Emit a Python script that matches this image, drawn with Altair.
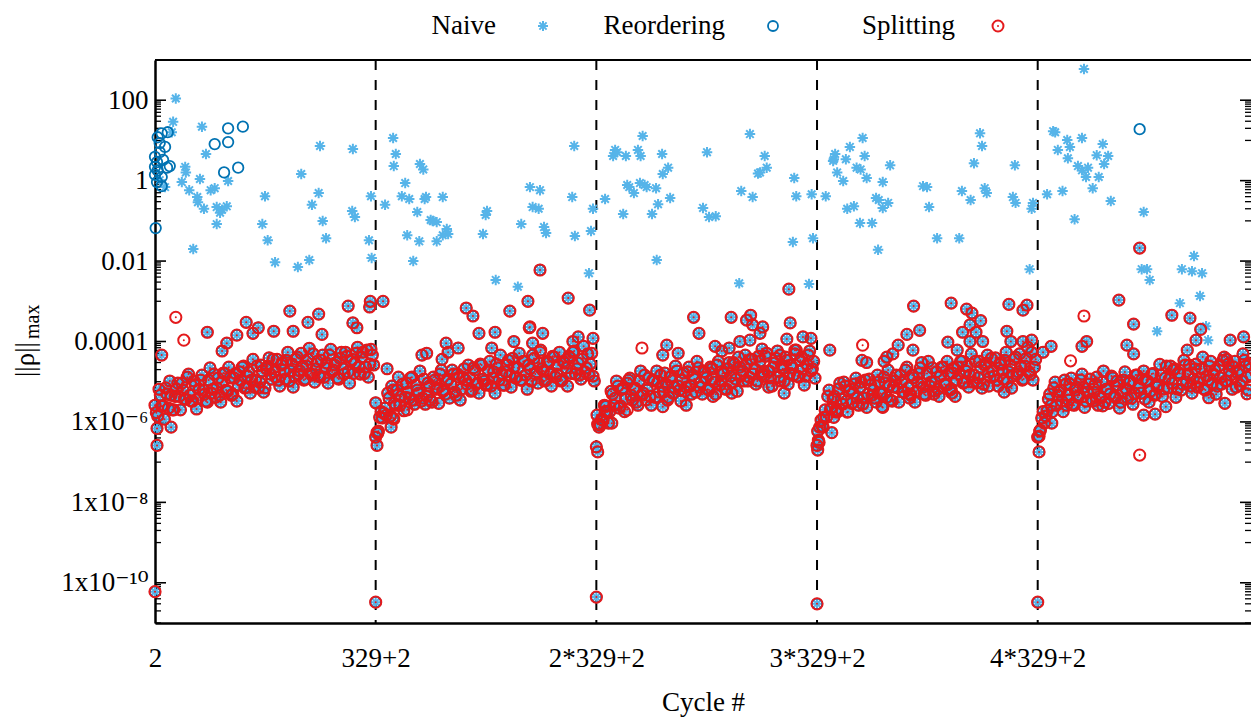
import altair as alt
import pandas as pd

FONT = "Liberation Serif, DejaVu Serif, serif"
NAIVE_C = "#56b4e9"
REORD_C = "#0072b2"
SPLIT_C = "#e41a1c"

# ---- axis ticks / labels ----
X_TICKS = [2, 331, 660, 989, 1318]
X_LABELS = ["2", "329+2", "2*329+2", "3*329+2", "4*329+2"]
Y_MAJOR = [1e-10, 1e-8, 1e-6, 1e-4, 1e-2, 1, 100]
Y_LABELS = ["1x10⁻¹⁰", "1x10⁻⁸", "1x10⁻⁶", "0.0001", "0.01", "1", "100"]
Y_MINOR = [k * m / 10 for m in Y_MAJOR for k in range(1, 10)]

# ---- data: the common band (all three methods agree) ----
SEG_STARTS = [2, 331, 660, 989, 1318]
BAND_STEP = 4          # list "a" at start+4i, list "b" at start+2+4i
seg1_band = [2.6e-6, 1.4e-6, 4.6e-6, 2.5e-6, 7e-6, 2.2e-6, 4.6e-6, 2e-6, 6.6e-6, 4.3e-6,
             9.2e-6, 3.7e-6, 1.3e-5, 4.6e-6, 3.3e-6, 8.2e-6, 3.9e-6, 1.1e-5, 6.2e-6, 3.3e-6,
             1.1e-5, 5.2e-6, 1.55e-5, 7e-6, 4.6e-6, 9.8e-6, 1.6e-5, 5.8e-6, 1.25e-5, 4.9e-6,
             1.6e-5, 8.2e-6, 1.1e-5, 2.45e-5, 7.3e-6, 1.75e-5, 1.1e-5, 7.3e-6, 2.45e-5, 9.8e-6,
             1.85e-5, 7e-6, 2.45e-5, 1.55e-5, 3.6e-5, 1.3e-5, 1.1e-5, 2.6e-5, 1.95e-5, 3.4e-5,
             1.04e-5, 2.75e-5, 1.38e-5, 4.1e-5, 1.85e-5, 2.45e-5, 1.16e-5, 3.6e-5, 1.6e-5, 4.9e-5,
             2.1e-5, 1.46e-5, 3.4e-5, 1.3e-5, 2.9e-5, 4.6e-5, 1.75e-5, 2.6e-5, 1.25e-5, 3.8e-5,
             2.1e-5, 5.4e-5, 1.75e-5, 3.2e-5, 1.6e-5, 5.1e-5, 2.3e-5, 4.1e-5, 1.6e-5, 6.1e-5,
             2.75e-5, 4.6e-5]
seg1_band_b = [1.7e-6, 6.5e-6, 2.45e-6, 1.17e-6, 4.9e-6, 1.04e-5, 2e-6, 4.3e-6, 9.2e-6, 2e-6,
               6.2e-6, 3.7e-6, 1.55e-5, 3.3e-6, 1.04e-5, 2.1e-6, 6.5e-6, 1.46e-5, 4.9e-6, 3.1e-6,
               2.2e-5, 6.5e-6, 4.1e-6, 1.23e-5, 3.1e-6, 1.65e-5, 6.2e-6, 2.3e-5, 4.6e-6, 1.23e-5,
               3.3e-6, 1.75e-5, 2.3e-5, 6.9e-6, 1.38e-5, 5.2e-6, 3.6e-5, 1.1e-5, 6.9e-6, 2.6e-5,
               5.5e-6, 2.1e-5, 3.9e-5, 1.16e-5, 1.75e-5, 3.6e-5, 7.8e-6, 2.9e-5, 1.16e-5, 5.4e-5,
               1.85e-5, 7.3e-6, 3.6e-5, 1.55e-5, 5.1e-5, 1.1e-5, 2.45e-5, 6.8e-5, 1.46e-5, 9.8e-6,
               3.2e-5, 1.3e-5, 4.6e-5, 2.2e-5, 9.2e-6, 6.4e-5, 1.95e-5, 3e-5, 1.16e-5, 5.4e-5,
               1.55e-5, 4.3e-5, 9.2e-6, 3.6e-5, 2.9e-5, 7.2e-5, 1.55e-5, 5.4e-5, 2.3e-5, 1.3e-5,
               6.4e-5, 2.6e-5]
seg2_band = [4.2e-7, 5.9e-7, 1.8e-6, 1.65e-6, 1.48e-6, 3.9e-6, 7.8e-6, 2.9e-6, 6.2e-6, 2.6e-6,
             8.7e-6, 4.1e-6, 5.5e-6, 1.25e-5, 3.5e-6, 8.2e-6, 5.2e-6, 3.3e-6, 1.16e-5, 4.3e-6,
             7.8e-6, 3.1e-6, 1.1e-5, 7e-6, 1.55e-5, 5.8e-6, 4.9e-6, 1.16e-5, 8.7e-6, 1.55e-5,
             4.6e-6, 1.3e-5, 6.6e-6, 2.1e-5, 8.7e-6, 1.25e-5, 6.2e-6, 1.95e-5, 9.2e-6, 2.75e-5,
             1.16e-5, 8.2e-6, 1.95e-5, 7.8e-6, 1.75e-5, 2.75e-5, 1.1e-5, 1.6e-5, 8.2e-6, 2.6e-5,
             1.46e-5, 3.8e-5, 1.25e-5, 2.2e-5, 1.1e-5, 3.2e-5, 1.46e-5, 2.6e-5, 1.04e-5, 3.8e-5,
             1.75e-5, 2.9e-5, 2.1e-5, 1.04e-5, 3.2e-5, 1.55e-5, 4.3e-5, 1.3e-5, 2.6e-5, 1.04e-5,
             3.2e-5, 2.2e-5, 4.3e-5, 1.6e-5, 5.8e-5, 2.1e-5, 1.46e-5, 3.6e-5, 1.75e-5, 4.9e-5,
             2.75e-5, 1.38e-5]
seg2_band_b = [5.5e-7, 1.3e-6, 1.25e-6, 2.2e-6, 5.2e-6, 1.4e-6, 6.2e-6, 2.6e-6, 1.3e-5, 4.3e-6,
               1.9e-6, 9.2e-6, 3.9e-6, 1.3e-5, 2.75e-6, 6.2e-6, 1.85e-5, 3.9e-6, 2.75e-6, 9.2e-6,
               3.5e-6, 1.3e-5, 6.5e-6, 2.9e-6, 1.95e-5, 6.2e-6, 1.04e-5, 3.9e-6, 1.95e-5, 5.5e-6,
               1.55e-5, 3.5e-6, 1.3e-5, 1.1e-5, 2.6e-5, 5.8e-6, 2.2e-5, 8.7e-6, 5.2e-6, 2.6e-5,
               1.04e-5, 8.7e-6, 3.2e-5, 1.23e-5, 5.2e-6, 2.2e-5, 4.6e-5, 8.2e-6, 1.75e-5, 3.4e-5,
               7.3e-6, 2.3e-5, 1.3e-5, 5.1e-5, 1.1e-5, 3.2e-5, 6.5e-6, 2.1e-5, 4.6e-5, 1.55e-5,
               9.2e-6, 6.1e-5, 1.85e-5, 1.1e-5, 3e-5, 7.8e-6, 4.1e-5, 1.55e-5, 5.4e-5, 1.1e-5,
               2.9e-5, 7.8e-6, 3.9e-5, 5.4e-5, 1.55e-5, 2.9e-5, 1.16e-5, 7.6e-5, 2.2e-5, 1.46e-5,
               5.1e-5, 1.04e-5]
seg3_band = [2.4e-7, 8.8e-7, 1.17e-6, 2.6e-6, 1.8e-6, 1.8e-6, 4.9e-6, 3.9e-6, 7.8e-6, 2.5e-6,
             7e-6, 3.7e-6, 1.1e-5, 4.6e-6, 6.6e-6, 3.1e-6, 1.04e-5, 4.6e-6, 1.46e-5, 6.2e-6,
             4.3e-6, 1.1e-5, 4.1e-6, 9.8e-6, 1.46e-5, 5.5e-6, 8.7e-6, 4.1e-6, 1.38e-5, 7.3e-6,
             1.85e-5, 6.2e-6, 1.1e-5, 5.8e-6, 1.75e-5, 7.8e-6, 1.46e-5, 5.5e-6, 2.2e-5, 9.8e-6,
             1.75e-5, 1.25e-5, 6.2e-6, 2.1e-5, 9.8e-6, 2.6e-5, 8.2e-6, 1.6e-5, 6.6e-6, 2.1e-5,
             1.38e-5, 3e-5, 1.16e-5, 4.1e-5, 1.46e-5, 1.04e-5, 2.75e-5, 1.3e-5, 3.6e-5, 2.1e-5,
             1.04e-5, 3.2e-5, 1.55e-5, 4.3e-5, 1.85e-5, 1.25e-5, 2.3e-5, 3.8e-5, 1.3e-5, 2.6e-5,
             1.04e-5, 3.4e-5, 1.6e-5, 2.2e-5, 4.9e-5, 1.38e-5, 3.4e-5, 2.1e-5, 1.38e-5, 4.6e-5,
             1.85e-5, 3.2e-5]
seg3_band_b = [8.8e-7, 8.3e-7, 1.1e-6, 2.45e-6, 9.3e-7, 5.8e-6, 2.6e-6, 1.04e-5, 2.2e-6, 6.5e-6,
               1.8e-6, 9.2e-6, 1.23e-5, 3.5e-6, 6.9e-6, 2.6e-6, 1.85e-5, 5.2e-6, 3.5e-6, 1.23e-5,
               2.6e-6, 1.04e-5, 1.85e-5, 5.5e-6, 7.8e-6, 1.65e-5, 3.5e-6, 1.3e-5, 5.2e-6, 2.45e-5,
               7.8e-6, 3.3e-6, 1.65e-5, 7.3e-6, 2.3e-5, 4.9e-6, 1.16e-5, 3.2e-5, 7.3e-6, 4.9e-6,
               1.75e-5, 6.5e-6, 2.3e-5, 1.16e-5, 4.9e-6, 3.2e-5, 1.04e-5, 1.65e-5, 6.5e-6, 3e-5,
               9.2e-6, 2.7e-5, 5.8e-6, 2.3e-5, 1.85e-5, 4.6e-5, 1.04e-5, 3.6e-5, 1.55e-5, 8.7e-6,
               4.3e-5, 1.75e-5, 1.38e-5, 5.1e-5, 1.85e-5, 7.8e-6, 2.9e-5, 5.8e-5, 1.04e-5, 2.1e-5,
               4.1e-5, 8.7e-6, 2.6e-5, 1.46e-5, 6.1e-5, 1.3e-5, 4.1e-5, 8.2e-6, 2.7e-5, 5.8e-5,
               2.1e-5, 1.23e-5]
seg4_band = [2.6e-7, 7.4e-7, 7.8e-7, 2e-6, 4.3e-6, 2.1e-6, 3.7e-6, 2e-6, 6.6e-6, 3.7e-6,
             9.8e-6, 3.3e-6, 5.8e-6, 2.9e-6, 8.7e-6, 3.9e-6, 7.3e-6, 2.75e-6, 1.1e-5, 4.9e-6,
             8.2e-6, 6.2e-6, 3.1e-6, 9.8e-6, 4.9e-6, 1.3e-5, 4.1e-6, 8.2e-6, 3.3e-6, 1.04e-5,
             7e-6, 1.46e-5, 5.5e-6, 1.95e-5, 7e-6, 4.6e-6, 1.25e-5, 5.8e-6, 1.6e-5, 9.2e-6,
             4.9e-6, 1.6e-5, 7.8e-6, 2.2e-5, 9.8e-6, 6.6e-6, 1.38e-5, 2.3e-5, 8.2e-6, 1.6e-5,
             6.6e-6, 2.2e-5, 1.1e-5, 1.55e-5, 3.2e-5, 9.8e-6, 2.45e-5, 1.46e-5, 9.8e-6, 3.2e-5,
             1.25e-5, 2.3e-5, 8.7e-6, 2.9e-5, 1.75e-5, 3.8e-5, 1.38e-5, 1.1e-5, 2.75e-5, 1.95e-5,
             3.4e-5, 9.8e-6, 2.6e-5, 1.38e-5, 4.1e-5, 1.75e-5, 2.45e-5, 1.16e-5, 3.8e-5, 1.75e-5,
             5.4e-5, 2.3e-5]
seg4_band_b = [3.5e-7, 1.1e-6, 1.3e-6, 1.3e-6, 6.2e-6, 2.3e-6, 4.3e-6, 1.9e-6, 9.2e-6, 2.75e-6,
               7.8e-6, 1.8e-6, 6.5e-6, 5.2e-6, 1.23e-5, 2.6e-6, 9.8e-6, 3.9e-6, 2.3e-6, 1.16e-5,
               4.6e-6, 3.9e-6, 1.46e-5, 5.2e-6, 2.3e-6, 9.2e-6, 1.95e-5, 3.5e-6, 7.3e-6, 1.46e-5,
               3.1e-6, 9.8e-6, 5.5e-6, 2.3e-5, 4.9e-6, 1.46e-5, 3.1e-6, 9.8e-6, 2.2e-5, 7.3e-6,
               4.6e-6, 3.2e-5, 9.8e-6, 5.8e-6, 1.75e-5, 4.3e-6, 2.3e-5, 8.7e-6, 3.2e-5, 6.2e-6,
               1.65e-5, 4.3e-6, 2.3e-5, 3.2e-5, 9.2e-6, 1.85e-5, 7.3e-6, 4.9e-5, 1.46e-5, 9.2e-6,
               3.2e-5, 6.9e-6, 2.6e-5, 4.6e-5, 1.3e-5, 1.85e-5, 3.9e-5, 7.8e-6, 3e-5, 1.16e-5,
               5.4e-5, 1.75e-5, 6.9e-6, 3.6e-5, 1.55e-5, 4.9e-5, 1.1e-5, 2.45e-5, 7.2e-5, 1.55e-5,
               1.1e-5, 3.6e-5]
seg5_band = [4.2e-7, 6.2e-7, 1.8e-6, 1.4e-6, 3.7e-6, 2.6e-6, 7e-6, 2.6e-6, 5.5e-6, 3.3e-6,
             1.1e-5, 4.6e-6, 8.7e-6, 2.75e-6, 6.2e-6, 4.1e-6, 1.1e-5, 7.3e-6, 3.3e-6, 8.7e-6,
             3.7e-6, 5.5e-6, 1.3e-5, 4.3e-6, 9.8e-6, 3.1e-6, 6.6e-6, 4.9e-6, 1.25e-5, 4.1e-6,
             8.2e-6, 3.1e-6, 1.1e-5, 6.6e-6, 9.2e-6, 3.9e-6, 5.2e-6, 1.46e-5, 7e-6, 1.16e-5,
             3.7e-6, 1.04e-5, 5.8e-6, 1.6e-5, 4.9e-6, 8.2e-6, 1.46e-5, 6.6e-6, 2.45e-5, 1.16e-5,
             9.2e-6, 2.1e-5, 6.6e-6, 1.6e-5, 8.7e-6, 2.6e-5, 1.55e-5, 7.8e-6, 1.16e-5, 2.75e-5,
             9.8e-6, 2.1e-5, 6.6e-6, 1.38e-5, 2.45e-5, 9.2e-6, 1.95e-5, 7.8e-6, 1.25e-5, 3.4e-5,
             1.04e-5, 2.75e-5, 1.46e-5, 2.3e-5, 7.3e-6, 1.95e-5, 1.04e-5, 3.4e-5, 1.3e-5, 2.75e-5]
seg5_band_b = [4.4e-7, 1.25e-6, 9.3e-7, 1.9e-6, 4.9e-6, 1.8e-6, 9.8e-6, 4.6e-6, 6.2e-6, 1.8e-6,
               8.7e-6, 3.5e-6, 1.23e-5, 2.6e-6, 7.3e-6, 4.6e-6, 1.55e-5, 2.3e-6, 5.5e-6, 1.16e-5,
               3.3e-6, 8.7e-6, 2.6e-6, 3.9e-6, 1.85e-5, 6.5e-6, 2.9e-6, 1.38e-5, 4.3e-6, 1.04e-5,
               2.2e-6, 5.5e-6, 1.75e-5, 3.9e-6, 1.04e-5, 2.75e-6, 1.46e-5, 6.9e-6, 5.2e-6, 1.85e-5,
               1.1e-5, 3.1e-6, 1.55e-5, 4.6e-6, 7.3e-6, 2.7e-5, 4.3e-6, 1.23e-5, 6.9e-6, 2.45e-5,
               1.95e-5, 4.1e-6, 1.65e-5, 6.2e-6, 3.4e-5, 9.8e-6, 2.6e-5, 5.2e-6, 2.1e-5, 7.3e-6,
               1.23e-5, 4.1e-5, 6.2e-6, 1.1e-5, 3.2e-5, 1.55e-5, 4.9e-6, 2.45e-5, 8.7e-6, 4.1e-5,
               1.04e-5, 1.85e-5, 6.5e-6, 3.2e-5, 1.65e-5, 8.2e-6, 4.9e-5, 2.45e-5, 6.2e-6, 1.46e-5]

# points away from the band where all three methods still agree (cycle, value)
band_extra = [
    (2, 6e-11), (331, 3.3e-11), (660, 4.4e-11), (989, 3e-11), (1318, 3.3e-11),
    (5, 6.9e-7), (5, 2.6e-7), (26, 7.4e-7), (12, 4.6e-5), (80, 1.7e-4), (138, 3e-4),
    (203, 5.7e-4), (246, 4.8e-4), (290, 7.6e-4), (323, 1.0e-3), (322, 7.2e-4), (124, 1.44e-4),
    (148, 1.6e-4), (156, 2.2e-4), (179, 1.8e-4), (208, 1.8e-4), (230, 3e-4), (251, 1.5e-4),
    (297, 2.9e-4), (303, 2.2e-4), (102, 5.8e-5), (109, 9.1e-5),
    (342, 1.0e-3), (466, 6.8e-4), (476, 4.3e-4), (485, 1.6e-4), (509, 1.7e-4), (531, 5.7e-4),
    (558, 1.0e-3), (618, 1.2e-3), (650, 6e-4), (561, 2.3e-4), (580, 1.6e-4), (436, 9.1e-5),
    (439, 5.4e-5), (454, 6.9e-5), (430, 3.6e-5), (504, 6.9e-5), (537, 1.0e-4), (565, 9.1e-5),
    (633, 1.3e-4), (625, 1.0e-4), (655, 1.2e-4), (400, 4.6e-5), (407, 5.1e-5), (348, 2.1e-5),
    (576, 6e-3), (333, 2.6e-7), (334, 5.2e-7), (354, 7.4e-7), (357, 1.25e-6), (331, 3e-6),
    (662, 1.8e-7), (664, 7.4e-7), (661, 1.48e-6), (673, 1.8e-6), (683, 9.3e-7), (805, 4e-4),
    (813, 1.6e-4), (861, 4e-4), (890, 4.5e-4), (884, 3.4e-4), (893, 2.6e-4), (908, 2.3e-4),
    (904, 1.6e-4), (947, 2e-3), (949, 2.9e-4), (944, 1.15e-4), (968, 1.3e-4), (980, 1.2e-4),
    (765, 8.1e-5), (782, 5.1e-5), (837, 7.6e-5), (858, 6.9e-5), (847, 5.8e-5), (874, 1.0e-4),
    (889, 1.08e-4), (907, 6.5e-5), (759, 4.6e-5), (934, 4.6e-5), (956, 6.1e-5), (759, 2.4e-6),
    (794, 2.6e-6), (834, 4.3e-6), (862, 5.2e-6), (917, 7.3e-6), (940, 5.2e-6),
    (990, 2e-7), (992, 3.1e-7), (990, 5.9e-7), (998, 7.4e-7), (1011, 5.4e-7), (1014, 1.3e-6),
    (1019, 1.75e-6), (1133, 7.6e-4), (1189, 9e-4), (1275, 8.4e-4), (1302, 8e-4), (1296, 6e-4),
    (1212, 6.4e-4), (1220, 5.1e-4), (1233, 3.3e-4), (1217, 2.6e-4), (1226, 1.7e-4),
    (1206, 1.7e-4), (1123, 1.5e-4), (1142, 1.9e-4), (1272, 1.8e-4), (1110, 8.1e-5),
    (1132, 6.1e-5), (1093, 4.1e-5), (1102, 4.9e-5), (1089, 3.2e-5), (1184, 9.6e-5),
    (1198, 6.1e-5), (1217, 1.0e-4), (1236, 1.0e-4), (1278, 1.0e-4), (1296, 1.0e-4),
    (1309, 1.08e-4), (1145, 3e-5), (1008, 6.1e-5), (1056, 3.4e-5), (1063, 3e-5), (1086, 2.4e-6),
    (1190, 5.2e-6), (1245, 7.8e-6), (1268, 5.5e-6), (1163, 4.9e-6), (1127, 3.9e-6),
    (1320, 1.8e-7), (1321, 5.9e-7), (1339, 9.3e-7), (1439, 1.07e-3), (1518, 4.5e-4),
    (1545, 3.8e-4), (1461, 2.7e-4), (1561, 2e-4), (1470, 0.021), (1451, 8.1e-5), (1461, 4.9e-5),
    (1391, 1.0e-4), (1384, 7.6e-5), (1338, 7.6e-5), (1326, 5.4e-5), (1605, 1.08e-4),
    (1625, 1.3e-4), (1541, 6.1e-5), (1554, 1.08e-4), (1600, 3.6e-5), (1476, 1.48e-6),
    (1493, 1.56e-6), (1509, 2.4e-6), (1573, 4e-6), (1597, 2.9e-6), (1630, 5e-6), (1415, 2.5e-6),
    (1361, 2.6e-6),
]

# Naive only (cycle, value)
naive_only = [
    (33, 110), (29, 29), (72, 22), (27, 16), (78, 4.6), (47, 2.2), (48, 1.6), (42, 0.92),
    (69, 1.1), (53, 0.58), (65, 0.39), (66, 0.29), (75, 0.2), (85, 0.58), (91, 0.65), (111, 0.98),
    (94, 0.22), (102, 0.19), (109, 0.23), (99, 0.16), (94, 0.083), (59, 0.02), (166, 0.41),
    (162, 0.083), (170, 0.033), (181, 0.0094), (215, 0.0071), (232, 0.0106), (220, 1.46),
    (246, 0.49), (236, 0.25), (252, 0.099), (257, 0.037), (248, 7.3), (297, 6.1), (296, 0.175),
    (300, 0.124), (324, 0.41), (321, 0.033), (325, 0.012), (17, 0.69), (9, 1.03),
    (357, 11.5), (361, 4.6), (358, 2.3), (397, 2.6), (402, 1.9), (375, 0.87), (370, 0.41),
    (381, 0.35), (404, 0.35), (406, 0.39), (431, 0.39), (345, 0.25), (393, 0.166), (413, 0.105),
    (422, 0.093), (416, 0.099), (437, 0.063), (439, 0.047), (431, 0.044), (422, 0.031),
    (378, 0.044), (396, 0.031), (387, 0.01), (497, 0.175), (495, 0.14), (491, 0.047),
    (510, 0.0034), (543, 0.0023), (548, 0.083), (561, 0.69), (576, 0.58), (565, 0.22),
    (574, 0.2), (582, 0.07), (585, 0.05), (627, 7.3), (624, 0.39), (628, 0.042), (655, 0.2),
    (652, 0.056), (649, 0.005),
    (673, 0.35), (688, 5.8), (685, 4.1), (691, 5.1), (704, 4.1), (729, 12.9), (722, 5.8),
    (726, 4.1), (758, 4.6), (767, 2.1), (759, 1.46), (706, 0.78), (709, 0.69), (716, 0.49),
    (725, 0.87), (732, 0.78), (735, 0.69), (749, 0.65), (770, 0.37), (752, 0.26), (700, 0.148),
    (743, 0.148), (750, 0.0106), (819, 0.21), (825, 5.1), (828, 0.124), (838, 0.13), (889, 14.4),
    (911, 4.1), (904, 1.6), (901, 1.5), (914, 2.1), (876, 0.55), (893, 0.39), (955, 1.16),
    (958, 0.41), (981, 0.46), (953, 0.03), (983, 0.037), (873, 0.0028), (977, 0.0027),
    (1002, 0.41), (1016, 4.6), (1014, 3.4), (1013, 3.1), (1032, 3.4), (1019, 1.6), (1028, 0.98),
    (1038, 6.9), (1057, 11.5), (1060, 4.1), (1048, 2.1), (1054, 1.9), (1063, 1.16), (1098, 2.4),
    (1087, 0.92), (1077, 0.37), (1081, 0.33), (1095, 0.28), (1087, 0.21), (1034, 0.2),
    (1044, 0.23), (1053, 0.088), (1071, 0.088), (1080, 0.019), (1147, 0.73), (1153, 0.69),
    (1156, 0.22), (1168, 0.037), (1201, 0.037), (1205, 0.55), (1218, 0.33), (1223, 2.7),
    (1232, 15), (1235, 7.3), (1239, 0.65), (1242, 0.49), (1284, 2.4), (1281, 0.39), (1285, 0.28),
    (1311, 0.28), (1309, 0.2), (1306, 0.0063),
    (1387, 600), (1344, 16), (1341, 17), (1362, 10.2), (1366, 6.9), (1384, 11.5), (1415, 8.1),
    (1348, 5.8), (1363, 3.6), (1406, 4.3), (1423, 4.1), (1417, 2.6), (1378, 2.3), (1384, 1.8),
    (1393, 2.1), (1390, 1.23), (1409, 1.23), (1400, 0.65), (1355, 0.55), (1332, 0.46),
    (1427, 0.31), (1373, 0.11), (1476, 0.166), (1473, 0.0063), (1481, 0.0063), (1485, 0.0034),
    (1533, 0.0063), (1548, 0.0056), (1563, 0.005), (1551, 0.0133), (1560, 0.00135),
    (1530, 0.0009), (1569, 0.00024), (1496, 0.00018), (1572, 0.000108),
]

# Reordering only (cycle, value)
reord_only = [
    (3, 0.066), (6, 12), (12, 15), (21, 16), (17, 6.9), (9, 5.1), (2, 3.9), (5, 2.9), (14, 3.3),
    (24, 2.3), (6, 1.8), (2, 1.4), (12, 1.23), (5, 0.92), (12, 0.73), (2, 2.2), (20, 2.1),
    (9, 8.6), (111, 20), (91, 8.1), (111, 9.1), (133, 22), (105, 1.6), (126, 2.1), (1470, 19),
]

# Splitting only (cycle, value)
split_only = [
    (33, 4e-4), (45, 1.08e-4), (560, 2.2e-4), (576, 5.4e-5), (378, 2e-6), (358, 1.17e-6),
    (706, 2e-6), (728, 6.9e-5), (1034, 1.75e-6), (1057, 8.1e-5), (1387, 4.3e-4),
    (1367, 3.3e-5), (1470, 1.5e-7),
]

# ---- build tables ----
band_rows = []
band_a = [seg1_band, seg2_band, seg3_band, seg4_band, seg5_band]
band_b = [seg1_band_b, seg2_band_b, seg3_band_b, seg4_band_b, seg5_band_b]
for start, va, vb in zip(SEG_STARTS, band_a, band_b):
    for i, v in enumerate(va):
        band_rows.append({"x": start + BAND_STEP * i, "y": v})
    for i, v in enumerate(vb):
        band_rows.append({"x": start + 2 + BAND_STEP * i, "y": v})
band_rows.sort(key=lambda r: r["x"])
band_rows += [{"x": a, "y": b} for a, b in band_extra]

naive_df = pd.DataFrame(band_rows + [{"x": a, "y": b} for a, b in naive_only])
reord_df = pd.DataFrame(band_rows + [{"x": a, "y": b} for a, b in reord_only])
split_df = pd.DataFrame(band_rows + [{"x": a, "y": b} for a, b in split_only])

W, H = 1096, 563

xscale = alt.Scale(domain=[2, 1636], nice=False, zero=False)
yscale = alt.Scale(type="log", domain=[1e-11, 1e3], nice=False)

x_expr = " : ".join(f"datum.value < {v + 1} ? '{lab}'" for v, lab in zip(X_TICKS[:-1], X_LABELS[:-1])) + f" : '{X_LABELS[-1]}'"
y_expr = " : ".join(f"datum.value < {v * 3:g} ? '{lab}'" for v, lab in zip(Y_MAJOR[:-1], Y_LABELS[:-1])) + f" : '{Y_LABELS[-1]}'"

xaxis = alt.Axis(values=X_TICKS, labelExpr=x_expr, title="Cycle #", titleFont=FONT, titleFontSize=27,
                 titleFontWeight="normal", titleColor="black", titleY=87, titleBaseline="alphabetic",
                 ticks=False, tickSize=0, grid=False, domainColor="black", domainWidth=2.5,
                 labelFont=FONT, labelFontSize=27, labelColor="black", labelPadding=22,
                 labelFlush=False, labelOverlap=False)
yaxis = alt.Axis(values=Y_MAJOR, labelExpr=y_expr, title=None, ticks=False, tickSize=0, grid=False,
                 domainColor="black", domainWidth=2.5, labelFont=FONT, labelFontSize=27,
                 labelColor="black", labelPadding=7, labelFlush=False, labelOverlap=False)


def X():
    return alt.X("x:Q", scale=xscale, axis=xaxis)


def Y():
    return alt.Y("y:Q", scale=yscale, axis=yaxis)


STAR = "M-1,0L1,0M0,-1L0,1M-0.72,-0.72L0.72,0.72M-0.72,0.72L0.72,-0.72"

dashed = alt.Chart(pd.DataFrame({"x": X_TICKS[1:]})).mark_rule(
    color="black", strokeWidth=2, strokeDash=[10, 10]).encode(x=X())

maj_df = pd.DataFrame({"y": Y_MAJOR})
min_df = pd.DataFrame({"y": Y_MINOR})
tick_l_maj = alt.Chart(maj_df).mark_rule(color="black", strokeWidth=1.6).encode(
    y=Y(), x=alt.value(0), x2=alt.value(11))
tick_l_min = alt.Chart(min_df).mark_rule(color="black", strokeWidth=1.3).encode(
    y=Y(), x=alt.value(0), x2=alt.value(6))
tick_r_maj = alt.Chart(maj_df).mark_rule(color="black", strokeWidth=1.6).encode(
    y=Y(), x=alt.value(W - 11), x2=alt.value(W))
tick_r_min = alt.Chart(min_df).mark_rule(color="black", strokeWidth=1.3).encode(
    y=Y(), x=alt.value(W - 6), x2=alt.value(W))
top_border = alt.Chart(pd.DataFrame({"a": [0]})).mark_rule(color="black", strokeWidth=2).encode(
    x=alt.value(0), x2=alt.value(W), y=alt.value(0))

naive_pts = alt.Chart(naive_df).mark_point(
    shape=STAR, filled=False, size=110, strokeWidth=2, color=NAIVE_C, opacity=1).encode(x=X(), y=Y())
reord_pts = alt.Chart(reord_df).mark_point(
    shape="circle", filled=False, size=110, strokeWidth=1.8, color=REORD_C, opacity=1).encode(x=X(), y=Y())
split_pts = alt.Chart(split_df).mark_point(
    shape="circle", filled=False, size=125, strokeWidth=2, color=SPLIT_C, opacity=1).encode(x=X(), y=Y())
split_dots = alt.Chart(split_df).mark_point(
    shape="circle", filled=True, size=4, color=SPLIT_C, opacity=1).encode(x=X(), y=Y())

one = pd.DataFrame({"a": [0]})
LEG_Y = -34


def label(txt, xpos, ypos, size=27, align="right", angle=0, baseline="middle"):
    return alt.Chart(one).mark_text(font=FONT, fontSize=size, color="black", align=align,
                                    baseline=baseline, angle=angle).encode(
        x=alt.value(xpos), y=alt.value(ypos), text=alt.value(txt))


leg_naive_t = label("Naive", 341, LEG_Y)
leg_reord_t = label("Reordering", 570, LEG_Y)
leg_split_t = label("Splitting", 800, LEG_Y)
leg_naive_s = alt.Chart(one).mark_point(shape=STAR, filled=False, size=100, strokeWidth=2,
                                        color=NAIVE_C, opacity=1).encode(x=alt.value(388), y=alt.value(LEG_Y))
leg_reord_s = alt.Chart(one).mark_point(shape="circle", filled=False, size=100, strokeWidth=1.8,
                                        color=REORD_C, opacity=1).encode(x=alt.value(618), y=alt.value(LEG_Y))
leg_split_s = alt.Chart(one).mark_point(shape="circle", filled=False, size=120, strokeWidth=2,
                                        color=SPLIT_C, opacity=1).encode(x=alt.value(843), y=alt.value(LEG_Y))
leg_split_d = alt.Chart(one).mark_point(shape="circle", filled=True, size=4,
                                        color=SPLIT_C, opacity=1).encode(x=alt.value(843), y=alt.value(LEG_Y))

# y title: ||ρ|| with subscript "max", read bottom-to-top, joined at one point
JOIN_Y = 280
ytitle_main = label("||ρ||", -121, JOIN_Y + 2, size=27, align="right", angle=270, baseline="alphabetic")
ytitle_sub = label("max", -116, JOIN_Y - 1, size=20, align="left", angle=270, baseline="alphabetic")

chart = alt.layer(
    dashed, tick_l_maj, tick_l_min, tick_r_maj, tick_r_min, top_border,
    naive_pts, reord_pts, split_pts, split_dots,
    leg_naive_t, leg_reord_t, leg_split_t, leg_naive_s, leg_reord_s, leg_split_s, leg_split_d,
    ytitle_main, ytitle_sub,
).properties(
    width=W, height=H,
    autosize=alt.AutoSizeParams(type="none"),
    padding={"left": 155, "top": 60, "right": 0, "bottom": 97},
).configure_view(stroke=None)

chart.save("out.html", embed_options={"renderer": "svg", "actions": False})
